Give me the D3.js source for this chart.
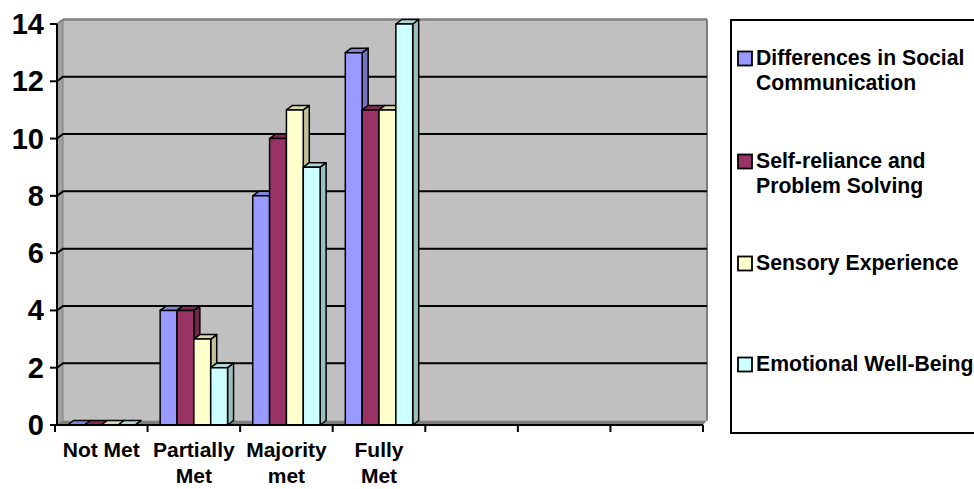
<!DOCTYPE html>
<html>
<head>
<meta charset="utf-8">
<script src="https://cdn.jsdelivr.net/npm/d3@7"></script>
<style>
  html, body { margin: 0; padding: 0; background: #fff; }
  svg { display: block; font-family: "Liberation Sans", Arial, sans-serif; font-weight: bold; }
</style>
</head>
<body>
<svg id="chart" width="974" height="489"></svg>
<script>
// Category slots on the x axis (the last three are empty slots)
const categories = ["Not Met", "Partially\nMet", "Majority\nmet", "Fully\nMet", "", "", ""];
const seriesNames = [
  "Differences in Social\nCommunication",
  "Self-reliance and\nProblem Solving",
  "Sensory Experience",
  "Emotional Well-Being"
];
// Values per series, one per filled category
const socialComm    = [0, 4, 8, 13];
const selfReliance  = [0, 4, 10, 11];
const sensory       = [0, 3, 11, 11];
const emotional     = [0, 2, 9, 14];
const seriesValues = [socialComm, selfReliance, sensory, emotional];
const yTicks = [0, 2, 4, 6, 8, 10, 12, 14];

const colors = ["#9999FF", "#993366", "#FFFFCC", "#CCFFFF"];

const svg = d3.select("#chart");

// Front plane geometry and the 3D depth offset
const plotLeft = 57, plotRight = 703, plotBottom = 425, plotTop = 24;
const dx = 6, dy = -4.5;
const wallRight = plotRight + 4;

const x0 = d3.scaleBand().domain(d3.range(categories.length)).range([55, plotRight]).padding(0);
const bw = x0.bandwidth();
const x1 = d3.scaleBand().domain(d3.range(seriesNames.length)).range([bw * 0.136, bw * 0.864]).padding(0);
const y = d3.scaleLinear().domain([0, 14]).range([plotBottom, plotTop]);

const poly = pts => pts.map(p => p.join(",")).join(" ");

// Back wall
svg.append("rect")
  .attr("x", plotLeft + dx).attr("y", y(14) + dy)
  .attr("width", wallRight - plotLeft - dx).attr("height", y(0) - y(14))
  .attr("fill", "#C0C0C0");

// Left side wall
svg.append("polygon")
  .attr("points", poly([[plotLeft, y(14)], [plotLeft + dx, y(14) + dy], [plotLeft + dx, y(0) + dy], [plotLeft, y(0)]]))
  .attr("fill", "#a0a0a0").attr("stroke", "#808080").attr("stroke-width", 1);

// Floor
svg.append("polygon")
  .attr("points", poly([[plotLeft, plotBottom], [plotLeft + dx, plotBottom + dy], [wallRight, plotBottom + dy], [plotRight, plotBottom]]))
  .attr("fill", "#808080");

// Wall top and right edges
svg.append("line")
  .attr("x1", plotLeft).attr("y1", y(14)).attr("x2", plotLeft + dx).attr("y2", y(14) + dy)
  .attr("stroke", "#808080").attr("stroke-width", 2);
svg.append("line")
  .attr("x1", plotLeft + dx).attr("y1", y(14) + dy).attr("x2", wallRight).attr("y2", y(14) + dy)
  .attr("stroke", "#808080").attr("stroke-width", 2.5);
svg.append("line")
  .attr("x1", wallRight).attr("y1", y(14) + dy).attr("x2", wallRight).attr("y2", y(0) + dy)
  .attr("stroke", "#808080").attr("stroke-width", 2);

// Gridlines on side wall and back wall
const grid = svg.append("g").attr("stroke", "#000").attr("stroke-width", 2).attr("fill", "none");
yTicks.filter(v => v > 0 && v < 14).forEach(v => {
  grid.append("polyline")
    .attr("points", poly([[plotLeft, y(v)], [plotLeft + dx, y(v) + dy], [wallRight, y(v) + dy]]));
});

// Bars: front face, top face, right side face
const bars = svg.append("g").attr("stroke", "#000").attr("stroke-width", 1.5).attr("stroke-linejoin", "round");
seriesValues.forEach((vals, s) => {
  const base = d3.color(colors[s]);
  const topCol = base.darker(0.45).formatHex();
  const sideCol = base.darker(0.8).formatHex();
  vals.forEach((v, c) => {
    const xa = x0(c) + x1(s), xb = xa + x1.bandwidth();
    const yt = y(v), yb = y(0);
    const g = bars.append("g");
    g.append("polygon")
      .attr("points", poly([[xb, yb], [xb + dx, yb + dy], [xb + dx, yt + dy], [xb, yt]]))
      .attr("fill", sideCol);
    g.append("polygon")
      .attr("points", poly([[xa, yt], [xa + dx, yt + dy], [xb + dx, yt + dy], [xb, yt]]))
      .attr("fill", topCol);
    g.append("rect")
      .attr("x", xa).attr("y", yt).attr("width", xb - xa).attr("height", yb - yt)
      .attr("fill", colors[s]);
  });
});

// Y axis
const yAxis = svg.append("g");
yAxis.append("line")
  .attr("x1", plotLeft).attr("y1", y(14)).attr("x2", plotLeft).attr("y2", y(0))
  .attr("stroke", "#000").attr("stroke-width", 2);
yTicks.forEach(v => {
  yAxis.append("line")
    .attr("x1", plotLeft - 7).attr("x2", plotLeft).attr("y1", y(v)).attr("y2", y(v))
    .attr("stroke", "#000").attr("stroke-width", 2);
  yAxis.append("text")
    .attr("x", 44).attr("y", y(v) + 10)
    .attr("text-anchor", "end").attr("font-size", 29)
    .text(v);
});

// X axis
const xAxis = svg.append("g");
xAxis.append("line")
  .attr("x1", 55).attr("y1", plotBottom).attr("x2", plotRight).attr("y2", plotBottom)
  .attr("stroke", "#000").attr("stroke-width", 2);
d3.range(categories.length + 1).forEach(i => {
  const xt = i < categories.length ? x0(i) : plotRight;
  xAxis.append("line")
    .attr("x1", xt).attr("x2", xt).attr("y1", plotBottom).attr("y2", plotBottom + 7)
    .attr("stroke", "#000").attr("stroke-width", 2);
});
categories.forEach((label, i) => {
  if (!label) return;
  const t = xAxis.append("text")
    .attr("text-anchor", "middle").attr("font-size", 21)
    .attr("x", x0(i) + bw / 2).attr("y", 457);
  label.split("\n").forEach((line, k) => {
    t.append("tspan").attr("x", x0(i) + bw / 2).attr("dy", k === 0 ? 0 : 26).text(line);
  });
});

// Legend
const legend = svg.append("g");
legend.append("rect")
  .attr("x", 731).attr("y", 20).attr("width", 260).attr("height", 413)
  .attr("fill", "#fff").attr("stroke", "#000").attr("stroke-width", 2);
const legendY = [65, 168, 270, 371];
seriesNames.forEach((name, s) => {
  legend.append("rect")
    .attr("x", 738).attr("y", legendY[s] - 13.5).attr("width", 14).attr("height", 14)
    .attr("fill", colors[s]).attr("stroke", "#000").attr("stroke-width", 1.8);
  const t = legend.append("text").attr("font-size", 21.2).attr("x", 756).attr("y", legendY[s]);
  name.split("\n").forEach((line, k) => {
    t.append("tspan").attr("x", 756).attr("dy", k === 0 ? 0 : 25).text(line);
  });
});
</script>
</body>
</html>
